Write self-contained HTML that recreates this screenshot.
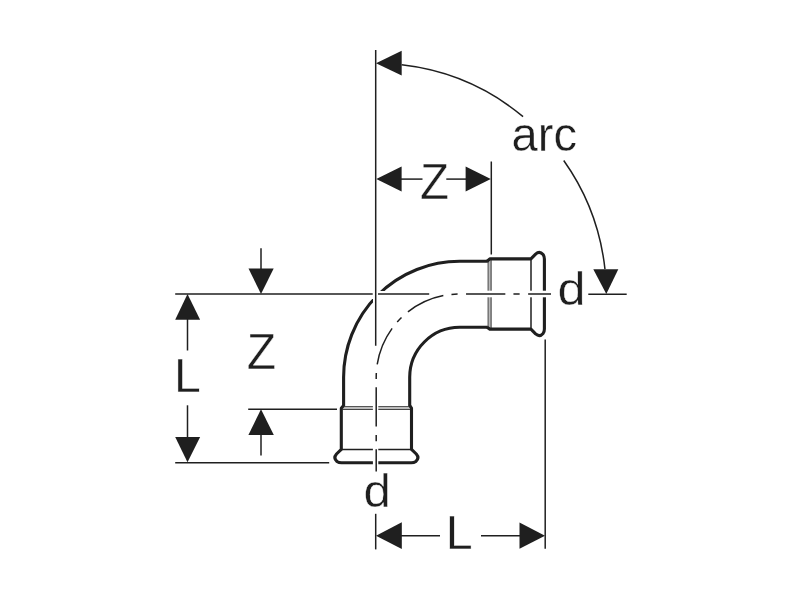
<!DOCTYPE html>
<html><head><meta charset="utf-8"><style>
html,body{margin:0;padding:0;background:#fff;width:800px;height:600px;overflow:hidden}
svg{display:block}
text{-webkit-font-smoothing:antialiased}
.t{will-change:transform}
</style></head><body>
<svg width="800" height="600" viewBox="0 0 800 600">
<rect width="800" height="600" fill="#fff"/>
<path d="M343.6,406.6 V377.3 A116,116 0 0 1 459.6,261.3 H488.6" fill="none" stroke="#1f1f1f" stroke-width="3.1"/>
<path d="M409.7,406.6 V377.3 A50,50 0 0 1 459.6,327.3 H488.6" fill="none" stroke="#1f1f1f" stroke-width="3.1"/>
<rect x="342.5" y="406.4" width="68.5" height="3.2" fill="#bbb"/>
<path d="M342.5,406.5 H411" stroke="#555" stroke-width="1.1" fill="none"/>
<path d="M342.5,409.5 H411" stroke="#444" stroke-width="1.1" fill="none"/>
<path d="M343.6,405.5 L341.3,408.2 V449.3 L336.5,454 Q333,458 337,461.5 Q338.8,462.8 341.5,462.8 H411.3 Q414,462.8 415.8,461.5 Q419.8,458 416.3,454 L411.5,449.3 V408.2 L409.7,405.5" fill="none" stroke="#1f1f1f" stroke-width="3.1" stroke-linejoin="round"/>
<path d="M341.3,449.4 H411.5" stroke="#1f1f1f" stroke-width="1.5" fill="none"/>
<g transform="matrix(0,1,1,0,81.6,-82.4)"><rect x="342.5" y="406.4" width="68.5" height="3.2" fill="#bbb"/>
<path d="M342.5,406.5 H411" stroke="#555" stroke-width="1.1" fill="none"/>
<path d="M342.5,409.5 H411" stroke="#444" stroke-width="1.1" fill="none"/>
<path d="M343.6,405.5 L341.3,408.2 V449.3 L336.5,454 Q333,458 337,461.5 Q338.8,462.8 341.5,462.8 H411.3 Q414,462.8 415.8,461.5 Q419.8,458 416.3,454 L411.5,449.3 V408.2 L409.7,405.5" fill="none" stroke="#1f1f1f" stroke-width="3.1" stroke-linejoin="round"/>
<path d="M341.3,449.4 H411.5" stroke="#1f1f1f" stroke-width="1.5" fill="none"/></g>
<g fill="#fff">
<rect x="366" y="291" width="20" height="8"/>
<rect x="373" y="284" width="5.5" height="22"/>
<rect x="372.9" y="404" width="5.4" height="8"/>
<rect x="372.9" y="446" width="5.4" height="20"/>
<rect x="486" y="290.7" width="8" height="6.6"/>
<rect x="528" y="290.7" width="20" height="6.6"/>
</g>
<line x1="375.7" y1="50" x2="375.7" y2="345.7" stroke="#1f1f1f" stroke-width="1.5" />
<polygon points="376,63.3 401.7,50.8 401.7,75.6" fill="#1f1f1f"/>
<path d="M401.70,64.87 A230.6,230.6 0 0 1 523.06,116.63" fill="none" stroke="#1f1f1f" stroke-width="1.5" />
<path d="M563.73,160.50 A230.6,230.6 0 0 1 604.96,269.20" fill="none" stroke="#1f1f1f" stroke-width="1.5" />
<polygon points="606.3,294 593.3,269.2 618.3,269.2" fill="#1f1f1f"/>
<line x1="588.3" y1="294.2" x2="626.7" y2="294.2" stroke="#1f1f1f" stroke-width="1.5" />
<line x1="491.3" y1="161.5" x2="491.3" y2="254.5" stroke="#1f1f1f" stroke-width="1.5" />
<polygon points="376.3,179.1 401.6,166.6 401.6,191.6" fill="#1f1f1f"/>
<line x1="400" y1="179.1" x2="422.5" y2="179.1" stroke="#1f1f1f" stroke-width="1.5" />
<line x1="446.3" y1="179.1" x2="467" y2="179.1" stroke="#1f1f1f" stroke-width="1.5" />
<polygon points="490.8,179.1 465.6,166.6 465.6,191.6" fill="#1f1f1f"/>
<line x1="175.2" y1="294.1" x2="372.7" y2="294.1" stroke="#1f1f1f" stroke-width="1.5" />
<line x1="378" y1="294.1" x2="429.2" y2="294.1" stroke="#1f1f1f" stroke-width="1.5" />
<line x1="261" y1="248.2" x2="261" y2="270" stroke="#1f1f1f" stroke-width="1.5" />
<polygon points="261,294 248.5,268.5 273.7,268.5" fill="#1f1f1f"/>
<polygon points="187.5,294 175.2,319.8 200.1,319.8" fill="#1f1f1f"/>
<line x1="187.5" y1="318" x2="187.5" y2="350.5" stroke="#1f1f1f" stroke-width="1.5" />
<line x1="187.5" y1="405.3" x2="187.5" y2="439" stroke="#1f1f1f" stroke-width="1.5" />
<polygon points="187.5,462.3 175.2,437.1 200.1,437.1" fill="#1f1f1f"/>
<line x1="175.2" y1="462.8" x2="329.2" y2="462.8" stroke="#1f1f1f" stroke-width="1.5" />
<line x1="248.2" y1="409.3" x2="337" y2="409.3" stroke="#1f1f1f" stroke-width="1.5" />
<polygon points="261,409.3 248.4,434.9 273.8,434.9" fill="#1f1f1f"/>
<line x1="261" y1="433" x2="261" y2="455.5" stroke="#1f1f1f" stroke-width="1.5" />
<line x1="375.7" y1="513.8" x2="375.7" y2="549.4" stroke="#1f1f1f" stroke-width="1.5" />
<polygon points="376,535.8 401.8,522.3 401.8,549.1" fill="#1f1f1f"/>
<line x1="400" y1="535.8" x2="440" y2="535.8" stroke="#1f1f1f" stroke-width="1.5" />
<line x1="481" y1="535.8" x2="521" y2="535.8" stroke="#1f1f1f" stroke-width="1.5" />
<polygon points="545,535.8 519.5,522.4 519.5,548.8" fill="#1f1f1f"/>
<line x1="545.2" y1="339.5" x2="545.2" y2="548.7" stroke="#1f1f1f" stroke-width="1.5" />
<path d="M551,294 H459.6 A83.4,83.4 0 0 0 376.2,377.3 V471.5" fill="none" stroke="#1f1f1f" stroke-width="1.5" stroke-dasharray="39.3 8.5 6.2 8.1" stroke-dashoffset="16.44"/>
<text transform="translate(511.62,150.62) scale(0.9878,1)" font-family="Liberation Sans" font-size="47.63" fill="#1f1f1f" stroke="#fff" stroke-width="0.4" class="t">arc</text>
<text transform="translate(419.88,199.20) scale(0.9603,1)" font-family="Liberation Sans" font-size="49.42" fill="#1f1f1f" stroke="#fff" stroke-width="0.4" class="t">Z</text>
<text transform="translate(246.66,368.95) scale(0.9785,1)" font-family="Liberation Sans" font-size="49.06" fill="#1f1f1f" stroke="#fff" stroke-width="0.4" class="t">Z</text>
<text transform="translate(173.95,392.30) scale(0.9838,1)" font-family="Liberation Sans" font-size="48.98" fill="#1f1f1f" stroke="#fff" stroke-width="0.4" class="t">L</text>
<text transform="translate(445.83,549.40) scale(0.9884,1)" font-family="Liberation Sans" font-size="48.98" fill="#1f1f1f" stroke="#fff" stroke-width="0.4" class="t">L</text>
<text transform="translate(557.48,305.04) scale(1.0952,1)" font-family="Liberation Sans" font-size="46.06" fill="#1f1f1f" stroke="#fff" stroke-width="0.4" class="t">d</text>
<text transform="translate(363.54,506.84) scale(1.0631,1)" font-family="Liberation Sans" font-size="46.20" fill="#1f1f1f" stroke="#fff" stroke-width="0.4" class="t">d</text>
</svg>
</body></html>
